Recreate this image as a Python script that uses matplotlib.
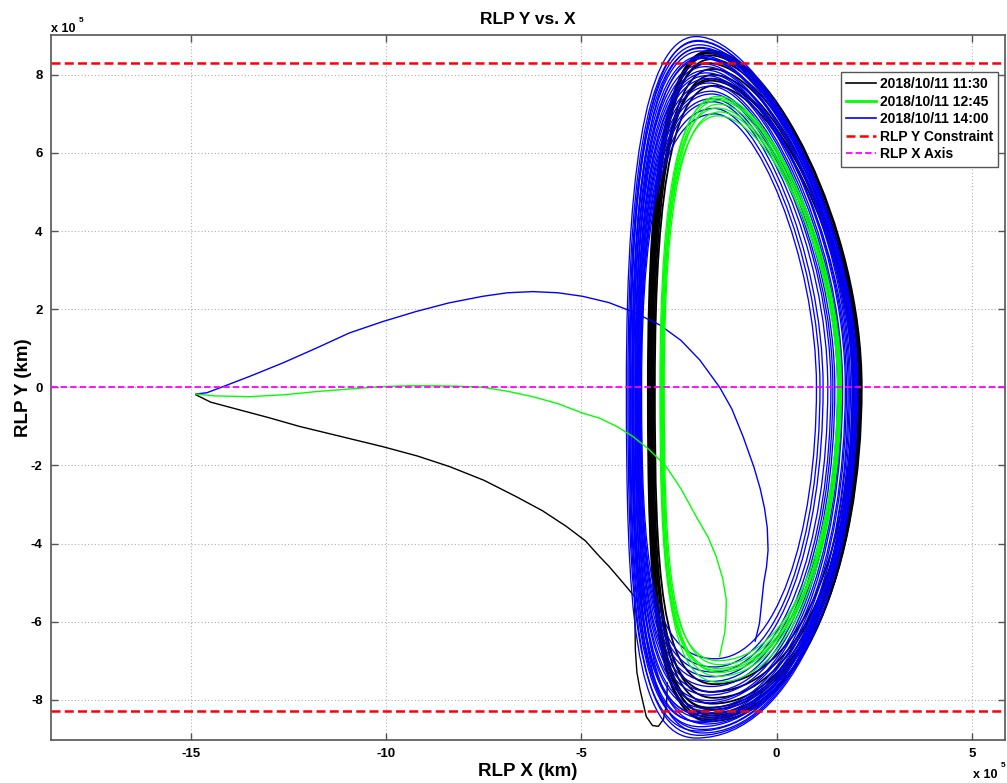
import matplotlib
matplotlib.use("Agg")
import matplotlib.pyplot as plt
from matplotlib.path import Path
from matplotlib.patches import PathPatch
from matplotlib.lines import Line2D

plt.rcParams['font.family'] = ['Liberation Sans', 'DejaVu Sans']

# ---------------- data (units of 1e5 km) ----------------
series_labels = ['2018/10/11 11:30', '2018/10/11 12:45', '2018/10/11 14:00']
constraint_label = 'RLP Y Constraint'
axis_label = 'RLP X Axis'
y_constraint = 8.3
x_ticks = [-15, -10, -5, 0, 5]
y_ticks = [-8, -6, -4, -2, 0, 2, 4, 6, 8]

# transfer arcs
black_tx_x = [-14.88, -14.5, -13.94, -13.0, -12.23, -11.2, -10.09, -9.2, -8.38, -7.5,
              -6.67, -6.0, -5.39, -4.9, -4.54, -4.3, -4.05, -3.82, -3.64, -3.63,
              -3.62, -3.58, -3.50, -3.34, -3.18, -3.03, -2.90, -2.82, -2.80]
black_tx_y = [-0.19, -0.38, -0.53, -0.78, -1.0, -1.25, -1.52, -1.76, -2.03, -2.38,
              -2.8, -3.16, -3.56, -3.93, -4.33, -4.58, -4.87, -5.14, -5.36, -6.0,
              -6.72, -7.3, -7.74, -8.43, -8.66, -8.68, -8.5, -8.1, -7.57]

green_tx_x = [-14.88, -14.4, -13.51, -12.6, -11.8, -10.9, -10.09, -9.4, -8.81, -8.2,
              -7.53, -6.9, -6.25, -5.6, -4.97, -4.54, -4.1, -3.68, -3.26, -2.83,
              -2.45, -2.06, -1.75, -1.55, -1.38, -1.29, -1.30, -1.33, -1.40, -1.46]
green_tx_y = [-0.17, -0.22, -0.24, -0.19, -0.11, -0.04, 0.02, 0.04, 0.04, 0.03,
              0.0, -0.1, -0.24, -0.42, -0.66, -0.79, -1.0, -1.26, -1.6, -2.03,
              -2.6, -3.31, -3.85, -4.33, -4.9, -5.44, -5.9, -6.29, -6.6, -6.89]

blue_tx_x = [-14.88, -14.6, -14.28, -13.5, -12.66, -11.8, -10.95, -10.1, -9.24, -8.4,
             -7.53, -6.9, -6.25, -5.6, -4.97, -4.3, -3.68, -3.0, -2.45, -1.97,
             -1.46, -1.15, -0.86, -0.58, -0.42, -0.31, -0.24, -0.22, -0.26, -0.33,
             -0.44, -0.55]
blue_tx_y = [-0.17, -0.14, -0.02, 0.28, 0.62, 1.0, 1.39, 1.68, 1.94, 2.16,
             2.33, 2.42, 2.45, 2.42, 2.33, 2.17, 1.93, 1.6, 1.2, 0.7,
             0.0, -0.55, -1.26, -2.05, -2.6, -3.1, -3.6, -4.17, -4.6, -5.0,
             -6.04, -6.5]

# orbit revolutions: (x left at y=0, x right at y=0, top y, bottom y, x of top/bottom)
black_loops = [
    (-3.30, 2.18, 8.62, -8.45, -1.70),
    (-3.25, 2.12, 8.50, -8.35, -1.72),
    (-3.22, 2.08, 8.40, -8.25, -1.68),
    (-3.28, 2.15, 8.30, -8.50, -1.75),
    (-3.18, 2.02, 8.15, -8.10, -1.65),
    (-3.15, 1.98, 8.00, -7.95, -1.62),
    (-3.20, 2.05, 7.85, -7.80, -1.68),
    (-3.12, 1.95, 7.72, -7.60, -1.60),
    (-3.26, 2.10, 8.55, -8.20, -1.74),
    (-3.22, 2.00, 7.90, -8.40, -1.66),
    (-3.24, 2.16, 8.58, -8.55, -1.72),
]
green_loops = [
    (-2.95, 1.64, 7.45, -7.55, -1.50),
    (-2.92, 1.61, 7.35, -7.40, -1.50),
    (-2.90, 1.58, 7.25, -7.30, -1.48),
    (-2.97, 1.63, 7.15, -7.20, -1.52),
    (-2.88, 1.56, 7.05, -7.10, -1.46),
    (-2.93, 1.60, 6.95, -7.00, -1.50),
    (-2.99, 1.66, 7.40, -7.25, -1.52),
]
blue_loops = [
    (-3.85, 2.08, 8.98, -8.98, -2.06),
    (-3.81, 2.05, 8.86, -8.80, -2.01),
    (-3.78, 2.02, 8.77, -8.91, -1.98),
    (-3.76, 1.99, 8.68, -8.69, -1.96),
    (-3.71, 1.95, 8.61, -8.58, -1.93),
    (-3.70, 1.89, 8.49, -8.76, -1.90),
    (-3.67, 1.86, 8.42, -8.47, -1.87),
    (-3.66, 1.79, 8.28, -8.41, -1.86),
    (-3.63, 1.76, 8.21, -8.28, -1.82),
    (-3.62, 1.69, 8.12, -8.22, -1.79),
    (-3.59, 1.66, 7.98, -8.08, -1.78),
    (-3.58, 1.59, 7.91, -8.02, -1.74),
    (-3.56, 1.56, 7.79, -7.88, -1.73),
    (-3.54, 1.49, 7.71, -7.79, -1.70),
    (-3.54, 1.44, 7.58, -7.66, -1.68),
    (-3.52, 1.39, 7.51, -7.53, -1.66),
    (-3.50, 1.31, 7.39, -7.41, -1.64),
    (-3.49, 1.19, 7.31, -7.29, -1.62),
    (-3.48, 1.11, 7.14, -7.16, -1.60),
    (-3.46, 1.02, 7.00, -6.95, -1.58),
    (-3.74, 2.04, 8.88, -8.55, -2.02),
    (-3.61, 1.93, 8.45, -8.85, -1.90),
    (-3.69, 2.00, 8.70, -8.35, -1.95),
    (-3.57, 1.83, 8.05, -8.62, -1.80),
]

# orbit shape (Bezier handle fractions)
UP_A, UP_B, UP_C, UP_D = 0.48, 0.40, 0.62, 0.72
LO_A, LO_B, LO_C, LO_D = 0.55, 0.60, 0.90, 0.62


def loop_path(xl, xr, yt, yb, xp):
    hb = -yb
    verts = [
        (xr, 0),
        (xr, UP_A * yt), (xp + UP_B * (xr - xp), yt), (xp, yt),
        (xp - UP_C * (xp - xl), yt), (xl, UP_D * yt), (xl, 0),
        (xl, -LO_D * hb), (xp - LO_C * (xp - xl), -hb), (xp, -hb),
        (xp + LO_B * (xr - xp), -hb), (xr, -LO_A * hb), (xr, 0),
    ]
    codes = [Path.MOVETO] + [Path.CURVE4] * 12
    return Path(verts, codes)


colors = ['black', '#00ff00', '#0000ff']
line_w = [1.3, 0.9, 0.95]
z_order = [2, 4, 3]

fig = plt.figure(figsize=(10.07, 7.83), dpi=100)
ax = fig.add_axes([51 / 1007, 1 - 740 / 783, 954 / 1007, 705 / 783])

groups = [(black_tx_x, black_tx_y, black_loops),
          (green_tx_x, green_tx_y, green_loops),
          (blue_tx_x, blue_tx_y, blue_loops)]
for i, (tx, ty, loops) in enumerate(groups):
    z = z_order[i]
    ax.plot(tx, ty, color=colors[i], lw=1.0, zorder=z + 0.5, solid_joinstyle='round')
    for lp in loops:
        ax.add_patch(PathPatch(loop_path(*lp), fill=False, edgecolor=colors[i],
                               lw=line_w[i], zorder=z))

dash = (0, (3.6, 1.7))
ax.axhline(y_constraint, color='#ff0000', ls=dash, lw=1.8, zorder=6)
ax.axhline(-y_constraint, color='#ff0000', ls=dash, lw=1.8, zorder=6)
ax.axhline(0, color='#ff00ff', ls=dash, lw=1.3, zorder=6)

ax.set_xlim(-18.59, 5.85)
ax.set_ylim(-9.03, 9.02)
ax.set_xticks(x_ticks)
ax.set_yticks(y_ticks)
ax.set_xticklabels([str(t) for t in x_ticks])
ax.set_yticklabels([str(t) for t in y_ticks])
ax.tick_params(direction='in', top=True, right=True, length=5, width=1.0,
               color='#555555', labelsize=9.5, pad=6)
for lab in ax.get_xticklabels() + ax.get_yticklabels():
    lab.set_fontweight('bold')
ax.grid(True, color='#b0b0b0', ls=(0, (1, 2)), lw=0.8)
for s in ax.spines.values():
    s.set_color('#555555')
    s.set_linewidth(1.2)

ax.set_title('RLP Y vs. X', fontsize=12.5, fontweight='bold', pad=8)
ax.set_xlabel('RLP X (km)', fontsize=13.5, fontweight='bold', labelpad=2)
ax.set_ylabel('RLP Y (km)', fontsize=13.5, fontweight='bold', labelpad=-1)

# exponent labels
fig.text(51 / 1007, 1 - 32 / 783, 'x 10', fontsize=9, fontweight='bold', ha='left', va='baseline')
fig.text(79 / 1007, 1 - 22 / 783, '5', fontsize=6, fontweight='bold', ha='left', va='baseline')
fig.text(973 / 1007, 1 - 778 / 783, 'x 10', fontsize=9, fontweight='bold', ha='left', va='baseline')
fig.text(1001 / 1007, 1 - 767 / 783, '5', fontsize=6, fontweight='bold', ha='left', va='baseline')

handles = [Line2D([], [], color=colors[0], lw=1.2),
           Line2D([], [], color=colors[1], lw=2.0),
           Line2D([], [], color=colors[2], lw=1.2),
           Line2D([], [], color='#ff0000', ls=dash, lw=1.8),
           Line2D([], [], color='#ff00ff', ls=dash, lw=1.3)]
labels = series_labels + [constraint_label, axis_label]
leg = ax.legend(handles, labels, loc='upper right', bbox_to_anchor=(0.993, 0.948),
                borderaxespad=0, fancybox=False, framealpha=1, edgecolor='#555555',
                prop={'weight': 'bold', 'size': 10}, handlelength=2.15,
                handletextpad=0.25, labelspacing=0.25, borderpad=0.4)
leg.get_frame().set_linewidth(1.0)
leg.set_zorder(10)

fig.savefig('out.png', dpi=100)
